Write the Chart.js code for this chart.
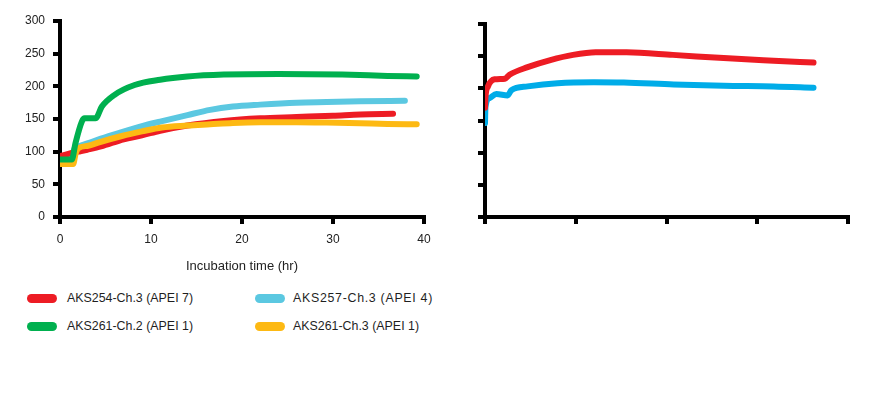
<!DOCTYPE html>
<html>
<head>
<meta charset="utf-8">
<script src="https://cdn.jsdelivr.net/npm/chart.js@4.4.1/dist/chart.umd.min.js"></script>
<style>
html,body{margin:0;padding:0;background:#fff;}
#wrap{position:relative;width:891px;height:394px;overflow:hidden;font-family:"Liberation Sans",Arial,sans-serif;}
#c1{position:absolute;left:0;top:0;}
#c2{position:absolute;left:440px;top:0;}
.mk{position:absolute;width:30px;height:9px;border-radius:5px;}
.lt{position:absolute;font-size:12.4px;line-height:14px;color:#1f1f1f;white-space:nowrap;}
</style>
</head>
<body>
<div id="wrap">
<canvas id="c1" width="440" height="280"></canvas>
<canvas id="c2" width="451" height="280"></canvas>
<div id="legend"></div>
</div>
<script>
// ---- Left panel data (time in hr) ----
const redTime    = [0, 1, 2, 3, 4.5, 7, 9, 11, 14, 18, 22, 26, 30, 33, 36.6];
const redVals    = [93, 97, 100, 103, 108, 119, 125, 132, 140, 147, 151, 153, 155, 157, 158];
const greenTime  = [0, 1.3, 1.7, 2.4, 2.7, 3.9, 4.6, 6, 8.2, 11, 14, 18, 24, 31, 36, 39.2];
const greenVals  = [88, 88, 113, 146, 151, 151, 169, 187, 202, 210, 215, 218, 219, 218, 216, 215];
const cyanTime   = [0, 1.2, 1.6, 2, 3.1, 4.5, 6.8, 9, 11, 14, 16.5, 19, 22, 26, 29.3, 33, 37.9];
const cyanVals   = [90, 90, 105, 108, 113, 120, 130, 139, 146, 156, 164, 169, 172, 175, 176, 177, 178];
const yellowTime = [0, 1.45, 1.7, 2, 3.1, 4.2, 6.8, 9, 11.2, 14, 16.5, 19, 22, 26, 29.3, 33, 36, 39.2];
const yellowVals = [81, 81, 96, 105, 109, 114, 124, 131, 137, 140, 142, 144, 145, 145, 144.5, 143.5, 142.5, 142];

// ---- Right panel data ----
const rRedTime  = [0, 0.05, 0.33, 1.06, 2.2, 2.7, 4.7, 7.2, 9.7, 12.2, 15.6, 20.7, 26.3, 31.8, 36.2];
const rRedVals  = [170, 186, 203, 214, 215, 221, 233, 244, 252, 256, 256, 252, 247, 243, 240];
const rBlueTime = [0, 0.05, 0.5, 1.25, 2.5, 2.9, 4.7, 8, 12, 15.3, 20.8, 26.3, 31.8, 36.2];
const rBlueVals = [146, 171, 185, 191, 189, 197, 203, 208, 209.5, 209, 206, 204, 203, 201];

// ---- Labels ----
const seriesNames = ["AKS254-Ch.3 (APEI 7)", "AKS257-Ch.3 (APEI 4)", "AKS261-Ch.2 (APEI 1)", "AKS261-Ch.3 (APEI 1)"];
const seriesColors = ["#ED1C24", "#5BC8E1", "#00B04F", "#FDB913"];
const rightBlue = "#00ACE8";
const xTitle = "Incubation time (hr)";
const xTicks = [0, 10, 20, 30, 40];
const yTicks = [0, 50, 100, 150, 200, 250, 300];

function pts(t, v) { return t.map((x, i) => ({x: x, y: v[i]})); }

function ds(label, t, v, color, order) {
  return {
    label: label, data: pts(t, v), borderColor: color, backgroundColor: color,
    borderWidth: 6, pointRadius: 0, borderCapStyle: 'round', borderJoinStyle: 'round',
    cubicInterpolationMode: 'monotone', fill: false, order: order
  };
}

function axisOpts(extra) {
  return Object.assign({
    type: 'linear',
    border: {display: true, color: '#000', width: 4},
    grid: {display: true, drawOnChartArea: false, drawTicks: true, tickLength: 7, color: '#000', lineWidth: 4},
  }, extra);
}

function makeChart(id, datasets, showLabels, padTop, padRight, yWidth, xHeight) {
  return new Chart(document.getElementById(id), {
    type: 'line',
    data: {datasets: datasets},
    options: {
      responsive: false, animation: false,
      layout: {padding: {top: padTop, right: padRight, left: 0, bottom: 0}},
      plugins: {legend: {display: false}, tooltip: {enabled: false}},
      scales: {
        x: axisOpts({
          min: 0, max: 40,
          afterBuildTicks: s => { s.ticks = xTicks.map(v => ({value: v})); },
          ticks: {display: showLabels, padding: 8, color: '#222', font: {family: 'Liberation Sans', size: 12}},
          title: {display: showLabels, text: xTitle, color: '#222', font: {family: 'Liberation Sans', size: 13}, padding: {top: 0, bottom: 6}},
          afterFit: s => { s.height = xHeight; }
        }),
        y: axisOpts({
          min: 0, max: 300,
          afterBuildTicks: s => { s.ticks = yTicks.map(v => ({value: v})); },
          ticks: {display: showLabels, padding: 8, color: '#222', font: {family: 'Liberation Sans', size: 12}},
          afterFit: s => { s.width = yWidth; }
        })
      }
    }
  });
}

makeChart('c1', [
  ds(seriesNames[0], redTime, redVals, seriesColors[0], 3),
  ds(seriesNames[1], cyanTime, cyanVals, seriesColors[1], 4),
  ds(seriesNames[2], greenTime, greenVals, seriesColors[2], 1),
  ds(seriesNames[3], yellowTime, yellowVals, seriesColors[3], 2)
], true, 21, 16, 60, 63);

makeChart('c2', [
  ds(seriesNames[0], rRedTime, rRedVals, seriesColors[0], 1),
  ds(seriesNames[1], rBlueTime, rBlueVals, rightBlue, 2)
], false, 24, 43, 45, 63);

// ---- Legend (HTML) ----
const legendPos = [
  {mx: 27, tx: 67, y: 298, ls: 0},
  {mx: 255, tx: 293, y: 298, ls: 0.7},
  {mx: 27, tx: 67, y: 326, ls: 0},
  {mx: 255, tx: 293, y: 326, ls: 0}
];
const leg = document.getElementById('legend');
seriesNames.forEach((name, i) => {
  const p = legendPos[i];
  const m = document.createElement('div');
  m.className = 'mk';
  m.style.left = p.mx + 'px'; m.style.top = (p.y - 4.5) + 'px';
  m.style.background = seriesColors[i];
  leg.appendChild(m);
  const t = document.createElement('div');
  t.className = 'lt';
  t.style.left = p.tx + 'px'; t.style.top = (p.y - 7) + 'px';
  t.style.letterSpacing = p.ls + 'px';
  t.textContent = name;
  leg.appendChild(t);
});
</script>
</body>
</html>
